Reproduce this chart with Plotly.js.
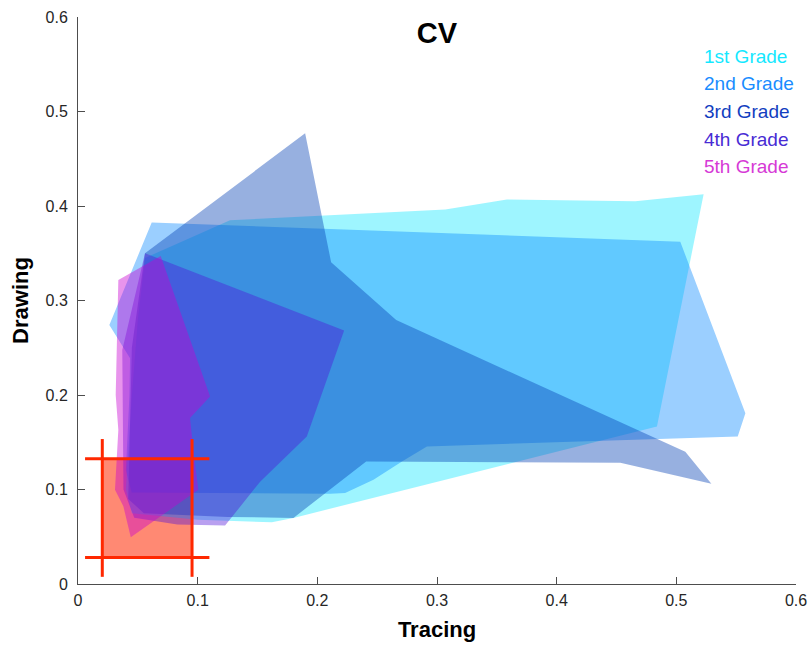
<!DOCTYPE html>
<html>
<head>
<meta charset="utf-8">
<script src="https://cdn.plot.ly/plotly-3.0.1.min.js"></script>
<style>
  html, body { margin: 0; padding: 0; background: #fff; }
  #chart { width: 808px; height: 646px; }
</style>
</head>
<body>
<div id="chart"></div>
<script>
// Grade names, area colours and label colours
const grades = ['1st Grade', '2nd Grade', '3rd Grade', '4th Grade', '5th Grade'];
const gradeRGB = ['0,230,255', '5,135,255', '7,67,181', '80,18,218', '200,0,210'];
const gradeAlpha = [0.38, 0.40, 0.42, 0.40, 0.42];
const labelColors = ['rgb(20,232,255)', 'rgb(25,140,255)', 'rgb(18,62,192)', 'rgb(72,44,212)', 'rgb(214,58,214)'];

// Boundary outlines of the CV scores per grade (Tracing on x, Drawing on y)
const grade1X = [0.5228, 0.4657, 0.3584, 0.3069, 0.127, 0.056, 0.050, 0.045, 0.040, 0.045, 0.100, 0.162, 0.180, 0.4838];
const grade1Y = [0.4125, 0.4051, 0.4069, 0.3963, 0.385, 0.345, 0.280, 0.200, 0.100, 0.075, 0.068, 0.0653, 0.0699, 0.1667];

const grade2X = [0.0616, 0.5033, 0.5577, 0.5513, 0.2916, 0.2707, 0.2469, 0.2232, 0.2107, 0.0449, 0.040, 0.043, 0.0435, 0.0262];
const grade2Y = [0.3826, 0.3621, 0.1808, 0.1561, 0.1456, 0.1297, 0.1104, 0.0963, 0.0956, 0.0967, 0.120, 0.200, 0.2389, 0.2741];

const grade3X = [0.1898, 0.2115, 0.2659, 0.5075, 0.5293, 0.4532, 0.2408, 0.180, 0.125, 0.055, 0.042, 0.045, 0.056];
const grade3Y = [0.4769, 0.3406, 0.2793, 0.1399, 0.1061, 0.1283, 0.1297, 0.0699, 0.071, 0.075, 0.090, 0.250, 0.350];

const grade4X = [0.056, 0.2224, 0.1912, 0.1522, 0.1229, 0.083, 0.047, 0.038, 0.037];
const grade4Y = [0.350, 0.2683, 0.1561, 0.1083, 0.0618, 0.063, 0.070, 0.100, 0.2476];

const grade5X = [0.0691, 0.1104, 0.0936, 0.0965, 0.1006, 0.0441, 0.0379, 0.0309, 0.0337, 0.0315, 0.0337];
const grade5Y = [0.347, 0.1984, 0.1756, 0.140, 0.0998, 0.0494, 0.0822, 0.0998, 0.163, 0.200, 0.3216];

const outlinesX = [grade1X, grade2X, grade3X, grade4X, grade5X];
const outlinesY = [grade1Y, grade2Y, grade3Y, grade4Y, grade5Y];

// Reference box: edges in x and y, plus the extent of its cross lines
const refX = [0.0203, 0.0953];
const refY = [0.028, 0.1326];
const refLineXExtent = [0.0059, 0.1098];
const refLineYExtent = [0.0076, 0.1534];

const traces = [];

// Shaded reference box, drawn beneath the grade areas
traces.push({
  type: 'scatter', mode: 'lines',
  x: [refX[0], refX[1], refX[1], refX[0], refX[0]],
  y: [refY[0], refY[0], refY[1], refY[1], refY[0]],
  fill: 'toself', fillcolor: 'rgba(255,40,0,0.55)',
  line: { width: 0 }, hoverinfo: 'skip', showlegend: false
});

// Grade areas, first to fifth
for (let i = 0; i < grades.length; i++) {
  traces.push({
    type: 'scatter', mode: 'lines', name: grades[i],
    x: outlinesX[i].concat([outlinesX[i][0]]),
    y: outlinesY[i].concat([outlinesY[i][0]]),
    fill: 'toself',
    fillcolor: 'rgba(' + gradeRGB[i] + ',' + gradeAlpha[i] + ')',
    line: { width: 0, color: 'rgba(' + gradeRGB[i] + ',0)' },
    hoverinfo: 'name', showlegend: false
  });
}

// Cross lines through the reference box edges
const crossX = [], crossY = [];
refY.forEach(v => { crossX.push(refLineXExtent[0], refLineXExtent[1], null); crossY.push(v, v, null); });
refX.forEach(v => { crossX.push(v, v, null); crossY.push(refLineYExtent[0], refLineYExtent[1], null); });
traces.push({
  type: 'scatter', mode: 'lines', x: crossX, y: crossY,
  line: { color: 'rgb(255,40,0)', width: 3 },
  connectgaps: false, hoverinfo: 'skip', showlegend: false
});

const fontFamily = 'Liberation Sans, Arial, sans-serif';

// Text legend in the upper right corner
const legendTop = 56, legendStep = 27.6;
const annotations = grades.map((g, i) => ({
  text: g, xref: 'paper', yref: 'paper',
  x: (702 - 78) / 718, xanchor: 'left',
  y: 1 - (legendTop + i * legendStep - 16.5) / 568, yanchor: 'middle',
  showarrow: false,
  font: { family: fontFamily, size: 19, color: labelColors[i] }
}));

function makeAxis(titleText, standoff, labelStandoff) {
  return {
    range: [0, 0.6], dtick: 0.1, tick0: 0, tickmode: 'linear',
    showgrid: false, zeroline: false,
    showline: true, linecolor: '#4d4d4d', linewidth: 1,
    ticks: 'inside', ticklen: 7, tickcolor: '#4d4d4d', tickwidth: 1,
    tickfont: { family: fontFamily, size: 16, color: '#262626' },
    ticklabelstandoff: labelStandoff,
    fixedrange: true,
    title: { text: '<b>' + titleText + '</b>', standoff: standoff,
      font: { family: fontFamily, size: 22, color: '#000' } }
  };
}

const layout = {
  width: 808, height: 646,
  paper_bgcolor: '#ffffff', plot_bgcolor: '#ffffff',
  margin: { l: 78, r: 12, t: 16.5, b: 61.5 },
  title: {
    text: '<b>CV</b>', x: 0.5, xref: 'paper', xanchor: 'center',
    y: 1 - 33 / 646, yref: 'container', yanchor: 'middle',
    font: { family: fontFamily, size: 29, color: '#000' }
  },
  xaxis: makeAxis('Tracing', 13, 2),
  yaxis: makeAxis('Drawing', 10, 6),
  annotations: annotations,
  showlegend: false
};

Plotly.newPlot('chart', traces, layout, { displayModeBar: false, staticPlot: true });
</script>
</body>
</html>
